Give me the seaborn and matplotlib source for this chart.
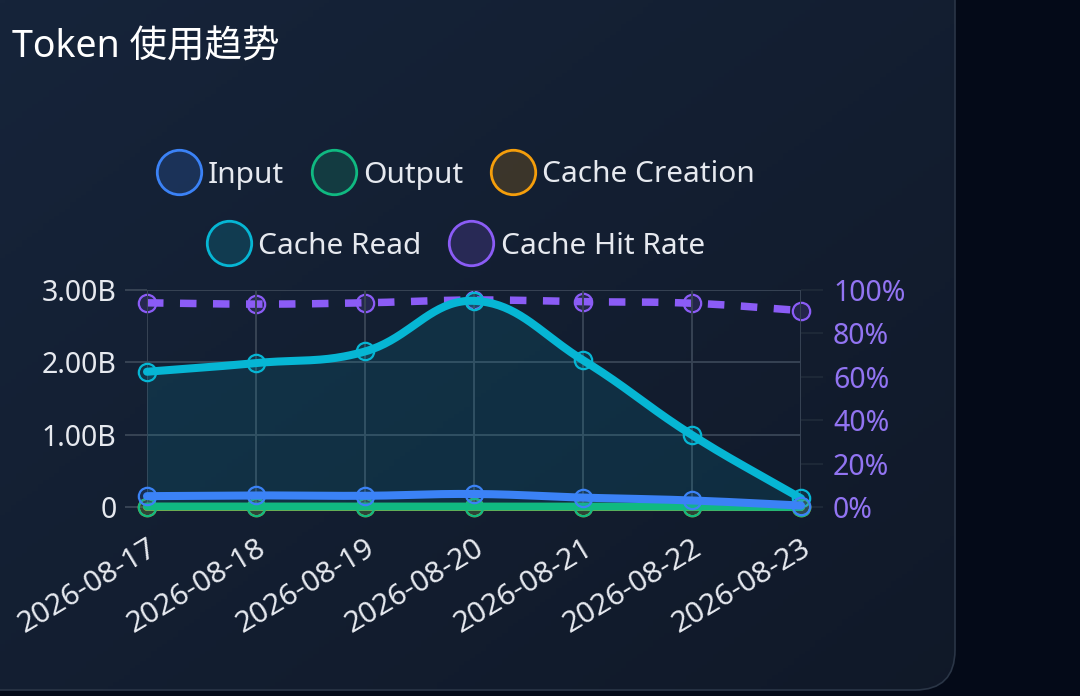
import numpy as np
import matplotlib
matplotlib.use("Agg")
import matplotlib.pyplot as plt
import seaborn as sns
from matplotlib.patches import FancyBboxPatch
from matplotlib.lines import Line2D
from matplotlib.colors import to_rgba
from matplotlib.ticker import FuncFormatter


# data
dates = ["2026-08-17", "2026-08-18", "2026-08-19", "2026-08-20",
         "2026-08-21", "2026-08-22", "2026-08-23"]
input_tokens = np.array([0.15, 0.16, 0.155, 0.18, 0.13, 0.09, 0.02]) * 1e9
output_tokens = np.array([0.006, 0.006, 0.005, 0.006, 0.005, 0.004, 0.001]) * 1e9
cache_creation = np.array([0.0005, 0.0005, 0.0005, 0.0005, 0.0005, 0.0004, 0.0001]) * 1e9
cache_read = np.array([1.87, 1.99, 2.15, 2.85, 2.03, 0.995, 0.12]) * 1e9
hit_rate = np.array([94.1, 93.5, 94.1, 95.4, 94.6, 93.9, 90.5])

C_INPUT = "#3b82f6"
C_OUTPUT = "#10b981"
C_CREATE = "#f59e0b"
C_READ = "#06b6d4"
C_HIT = "#8b5cf6"
GRID = "#374354"
TEXT = "#e6e9ef"

sns.set_style("dark")
plt.rcParams["font.family"] = ["Noto Sans", "Noto Sans CJK SC", "DejaVu Sans"]
plt.rcParams["axes.unicode_minus"] = False

W, H = 1080, 696
fig = plt.figure(figsize=(W / 100, H / 100), dpi=100)
fig.patch.set_facecolor("#040a18")

# card background with a soft gradient
bg = fig.add_axes([0, 0, 1, 1], zorder=-10)
bg.set_xlim(0, W)
bg.set_ylim(0, H)
bg.axis("off")
gx, gy = np.meshgrid(np.linspace(0, 1, 200), np.linspace(0, 1, 200))
mix = 0.55 * gx + 0.45 * (1 - gy)
top = np.array(to_rgba("#16243a")[:3])
bot = np.array(to_rgba("#101827")[:3])
grad = top[None, None, :] * (1 - mix[..., None]) + bot[None, None, :] * mix[..., None]
card = FancyBboxPatch((-60, 6), 955 + 60, 800, boxstyle="round,pad=0,rounding_size=40",
                      fc="none", ec="#2a3546", lw=1.2)
bg.add_patch(card)
im = bg.imshow(grad, extent=[0, W, H, 0], aspect="auto", origin="upper")
im.set_clip_path(card)

# main axes
ax = fig.add_axes([147 / W, 1 - 507 / H, 654 / W, 217 / H])
ax.set_xlim(0, 6)
ax.set_ylim(0, 3e9)
ax2 = ax.twinx()
ax2.set_ylim(0, 100)
ax.set_zorder(ax2.get_zorder() + 1)
ax.patch.set_visible(False)


def spline(axis, ys, tension=0.4, n=40):
    # chart.js-like bezier smoothing, done in pixel space
    pts = axis.transData.transform(np.column_stack([np.arange(len(ys)), ys]))
    lo, hi = axis.transData.transform([[0, axis.get_ylim()[0]], [0, axis.get_ylim()[1]]])[:, 1]
    cp_prev, cp_next = [], []
    for i in range(len(pts)):
        p0 = pts[max(i - 1, 0)]
        p1 = pts[i]
        p2 = pts[min(i + 1, len(pts) - 1)]
        d01 = np.hypot(*(p1 - p0))
        d12 = np.hypot(*(p2 - p1))
        tot = d01 + d12
        s01 = d01 / tot if tot else 0
        s12 = d12 / tot if tot else 0
        a = p1 - tension * s01 * (p2 - p0)
        b = p1 + tension * s12 * (p2 - p0)
        a[1] = np.clip(a[1], lo, hi)
        b[1] = np.clip(b[1], lo, hi)
        cp_prev.append(a)
        cp_next.append(b)
    t = np.linspace(0, 1, n)[:, None]
    segs = []
    for i in range(len(pts) - 1):
        P0, P1, P2, P3 = pts[i], cp_next[i], cp_prev[i + 1], pts[i + 1]
        seg = ((1 - t) ** 3) * P0 + 3 * ((1 - t) ** 2) * t * P1 + 3 * (1 - t) * t ** 2 * P2 + t ** 3 * P3
        segs.append(seg if i == 0 else seg[1:])
    curve = axis.transData.inverted().transform(np.vstack(segs))
    return curve[:, 0], curve[:, 1]


LW = 5.8
x_pts = np.arange(len(dates))

# cache read with area fill
sx, sy = spline(ax, cache_read)
ax.fill_between(sx, 0, sy, color=C_READ, alpha=0.12, lw=0, zorder=1)

series = [
    (cache_read, C_READ, 2),
    (cache_creation, C_CREATE, 3),
    (output_tokens, C_OUTPUT, 4),
    (input_tokens, C_INPUT, 5),
]
for vals, col, z in series:
    sx, sy = spline(ax, vals)
    sns.lineplot(x=sx, y=sy, ax=ax, color=col, lw=LW, sort=False, zorder=z,
                 solid_capstyle="round", clip_on=False)
    ax.plot(x_pts, vals, ls="none", marker="o", ms=12.5, mew=1.6,
            mfc=to_rgba(col, 0.15), mec=col, zorder=z + 0.5, clip_on=False)

# hit rate on the right axis
hx, hy = spline(ax2, hit_rate)
ax2.plot(hx, hy, color=C_HIT, lw=5.4, dashes=(2.2, 2.2), zorder=2, clip_on=False)
ax2.plot(x_pts, hit_rate, ls="none", marker="o", ms=12.5, mew=1.6,
         mfc=to_rgba(C_HIT, 0.15), mec=C_HIT, zorder=3, clip_on=False)

# axes styling
for a in (ax, ax2):
    for s in a.spines.values():
        s.set_visible(False)
ax.set_yticks([0, 1e9, 2e9, 3e9])
ax.yaxis.set_major_formatter(FuncFormatter(lambda v, p: "0" if v == 0 else f"{v / 1e9:.2f}B"))
ax.set_xticks(x_pts)
ax.set_xticklabels(dates, rotation=31, ha="right", va="top", rotation_mode="anchor")
ax.grid(True, color=GRID, lw=1.4)
ax.set_axisbelow(True)
ax.tick_params(axis="y", length=16, width=1.4, color=GRID, pad=6, labelsize=20.5, labelcolor=TEXT)
ax.tick_params(axis="x", length=14.5, width=1.4, color=GRID, pad=5, labelsize=21.5, labelcolor=TEXT)
ax.set_xlabel("")
ax.set_ylabel("")

ax2.set_yticks([0, 20, 40, 60, 80, 100])
ax2.set_yticklabels([f"{v}%" for v in [0, 20, 40, 60, 80, 100]])
ax2.grid(False)
ax2.tick_params(axis="y", length=16, width=1.4, color="#1e2938", pad=7, labelsize=20.5,
                labelcolor="#9274f2")

# title
fig.text(12 / W, 1 - 47 / H, "Token 使用趋势", fontsize=27, color="white", ha="left", va="center")


# legend in two rows, like the chart.js one
def handle(col):
    return Line2D([], [], ls="none", marker="o", ms=32, mew=2,
                  mfc=to_rgba(col, 0.18), mec=col)


leg_kw = dict(loc="center", frameon=False, fontsize=21.5, labelcolor=TEXT,
              handletextpad=0.25, columnspacing=0.95, handlelength=1.45, borderpad=0)
fig.legend([handle(C_INPUT), handle(C_OUTPUT), handle(C_CREATE)],
           ["Input", "Output", "Cache Creation"], ncol=3,
           bbox_to_anchor=(456 / W, 1 - 175 / H), **leg_kw)
fig.legend([handle(C_READ), handle(C_HIT)], ["Cache Read", "Cache Hit Rate"], ncol=2,
           bbox_to_anchor=(456 / W, 1 - 246 / H), **leg_kw)

fig.savefig("out.png", dpi=100, facecolor=fig.get_facecolor())
